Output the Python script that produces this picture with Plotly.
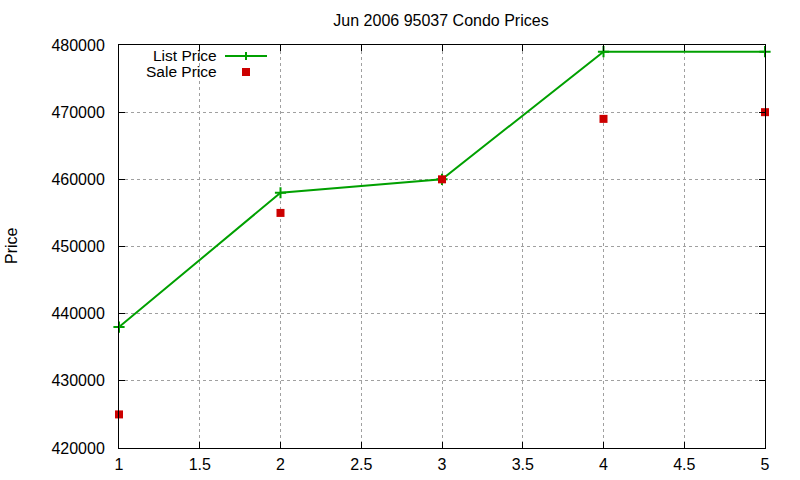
import plotly.graph_objects as go

x_vals = [1, 2, 3, 4, 5]
list_price = [438000, 458000, 460000, 479000, 479000]
sale_price = [425000, 455000, 460000, 469000, 470000]

GREEN = "#00a000"
RED = "#cc0000"
FONT = "Liberation Sans, Arial, sans-serif"

fig = go.Figure()
fig.add_trace(go.Scatter(x=x_vals, y=list_price, mode="lines+markers", name="List Price",
                         line=dict(color=GREEN, width=2),
                         marker=dict(symbol="cross-thin", size=8, line=dict(color=GREEN, width=2)),
                         showlegend=False, cliponaxis=False))
fig.add_trace(go.Scatter(x=x_vals, y=sale_price, mode="markers", name="Sale Price",
                         marker=dict(symbol="square", size=8, color=RED, line=dict(width=0)),
                         showlegend=False, cliponaxis=False))

L, R, T, B = 119, 35, 45, 32
W, H = 800, 480
pw, ph = W - L - R, H - T - B

def px(xp):
    return (xp - L) / pw

def py(yp):
    return 1 - (yp - T) / ph

shapes = [
    dict(type="line", xref="paper", yref="paper", x0=px(225), x1=px(267), y0=py(56), y1=py(56),
         line=dict(color=GREEN, width=2)),
    dict(type="line", xref="paper", yref="paper", x0=px(246), x1=px(246), y0=py(52), y1=py(60),
         line=dict(color=GREEN, width=2)),
    dict(type="rect", xref="paper", yref="paper", x0=px(242), x1=px(250), y0=py(68), y1=py(76),
         fillcolor=RED, line=dict(width=0)),
]
annotations = [
    dict(text="List Price", xref="paper", yref="paper", x=px(218), y=py(55), xanchor="right",
         yanchor="middle", showarrow=False, borderpad=0,
         font=dict(size=15.5, color="black", family=FONT)),
    dict(text="Sale Price", xref="paper", yref="paper", x=px(218), y=py(72), xanchor="right",
         yanchor="middle", showarrow=False, borderpad=0,
         font=dict(size=15.5, color="black", family=FONT)),
    dict(text="Price", xref="paper", yref="paper", x=px(12), y=py(246), xanchor="center",
         yanchor="middle", textangle=-90, showarrow=False,
         font=dict(size=16, color="black", family=FONT)),
]

fig.update_layout(
    width=W, height=H,
    margin=dict(l=L, r=R, t=T, b=B, autoexpand=False),
    paper_bgcolor="white", plot_bgcolor="white",
    font=dict(family=FONT, size=16, color="black"),
    title=dict(text="Jun 2006 95037 Condo Prices", xref="paper", x=px(441), xanchor="center",
               yref="container", y=1 - 20 / H, yanchor="middle",
               font=dict(size=16, color="black", family=FONT)),
    shapes=shapes, annotations=annotations,
)
fig.update_xaxes(range=[1, 5], dtick=0.5, tick0=1, showline=True, linecolor="black", linewidth=1,
                 mirror="ticks", ticks="inside", ticklen=6, tickcolor="black",
                 showgrid=True, gridcolor="#a0a0a0", griddash="dot", gridwidth=1,
                 zeroline=False, ticklabelstandoff=2, automargin=False,
                 tickfont=dict(size=16, family=FONT))
fig.update_yaxes(range=[420000, 480000], dtick=10000, tick0=420000, tickformat="d",
                 showline=True, linecolor="black", linewidth=1,
                 mirror="ticks", ticks="inside", ticklen=6, tickcolor="black",
                 showgrid=True, gridcolor="#a0a0a0", griddash="dot", gridwidth=1,
                 zeroline=False, ticklabelstandoff=10, automargin=False,
                 tickfont=dict(size=16, family=FONT))

fig.write_html("out.html")
